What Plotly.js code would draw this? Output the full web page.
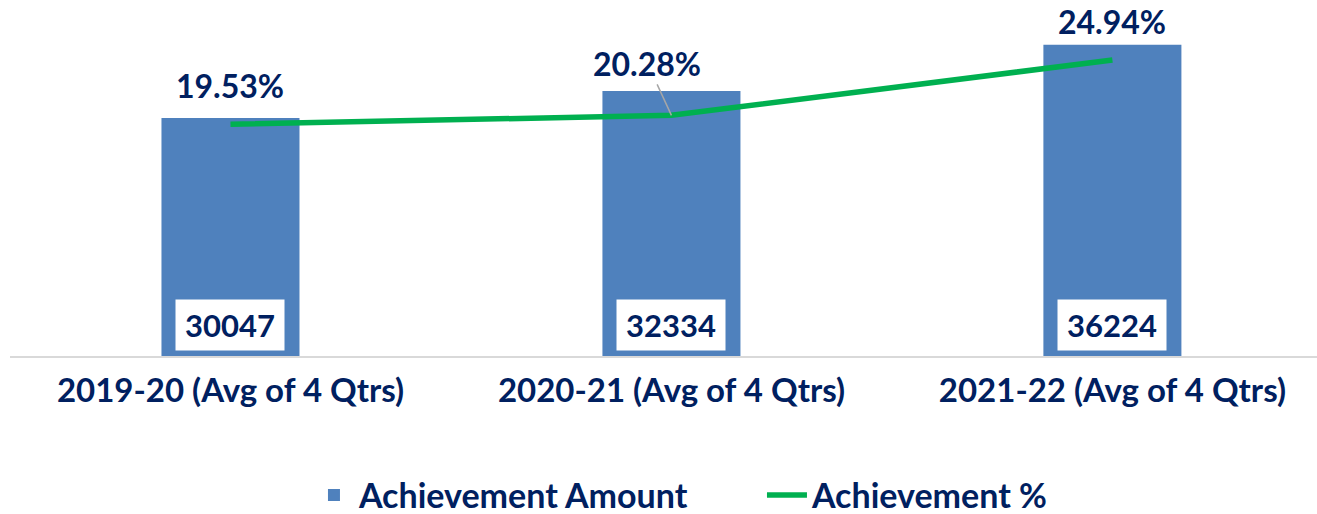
<!DOCTYPE html>
<html>
<head>
<meta charset="utf-8">
<script src="https://cdn.plot.ly/plotly-3.0.1.min.js"></script>
<style>
  html, body { margin: 0; padding: 0; background: #fff; }
  #chart { width: 1317px; height: 514px; }
</style>
</head>
<body>
<div id="chart"></div>
<script>
// values
var years = ['2019-20 (Avg of 4 Qtrs)', '2020-21 (Avg of 4 Qtrs)', '2021-22 (Avg of 4 Qtrs)'];
var amounts = [30047, 32334, 36224];
var percents = [19.53, 20.28, 24.94];

var navy = '#002060';
var fontFam = 'Lato, "Open Sans", sans-serif';

var barTrace = {
    x: years,
    y: amounts,
    type: 'bar',
    name: 'Achievement Amount',
    width: 0.313,
    marker: { color: '#4F81BD' },
    hoverinfo: 'skip'
};

var lineTrace = {
    x: years,
    y: percents,
    type: 'scatter',
    mode: 'lines',
    name: 'Achievement %',
    yaxis: 'y2',
    line: { color: '#00B050', width: 5.5 },
    hoverinfo: 'skip'
};

var annotations = [];
years.forEach(function(yr, i) {
    // amount label in a white box at the foot of each bar
    annotations.push({
        x: yr, y: 10000, xref: 'x', yref: 'y',
        text: '<b>' + amounts[i] + '</b>',
        showarrow: false,
        yanchor: 'bottom',
        yshift: 5,
        width: 96,
        bgcolor: '#ffffff',
        borderpad: 6,
        font: { family: fontFam, size: 31, color: navy }
    });
    // percent label above the line point
    var pct = {
        x: yr, y: percents[i], xref: 'x', yref: 'y2',
        text: '<b>' + percents[i].toFixed(2) + '%</b>',
        font: { family: fontFam, size: 32, color: navy }
    };
    if (i === 1) {
        pct.showarrow = true;
        pct.arrowhead = 0;
        pct.arrowwidth = 1.5;
        pct.arrowcolor = '#A6A6A6';
        pct.ax = -24;
        pct.ay = -52;
        pct.standoff = 0;
    } else {
        pct.showarrow = false;
        pct.yanchor = 'middle';
        pct.yshift = 39;
    }
    annotations.push(pct);
});

var layout = {
    width: 1317,
    height: 514,
    margin: { l: 10, r: 0, t: 0, b: 158 },
    paper_bgcolor: '#ffffff',
    plot_bgcolor: '#ffffff',
    showlegend: true,
    legend: {
        orientation: 'h',
        xref: 'container',
        yref: 'container',
        x: 0.2346, xanchor: 'left',
        y: 0.036, yanchor: 'middle',
        font: { family: fontFam, size: 34, color: navy, weight: 'bold' },
        itemwidth: 40,
        entrywidth: 398
    },
    xaxis: {
        type: 'category',
        range: [-0.5, 2.464],
        automargin: false,
        showline: true,
        linecolor: '#D9D9D9',
        linewidth: 2,
        showgrid: false,
        ticks: 'outside',
        ticklen: 4,
        tickcolor: 'rgba(0,0,0,0)',
        tickfont: { family: fontFam, size: 33, color: navy, weight: 'bold' }
    },
    yaxis: {
        range: [10000, 40000],
        visible: false,
        showgrid: false,
        zeroline: false
    },
    yaxis2: {
        range: [0, 30],
        overlaying: 'y',
        side: 'right',
        visible: false,
        showgrid: false,
        zeroline: false
    },
    annotations: annotations
};

Plotly.newPlot('chart', [barTrace, lineTrace], layout, { displayModeBar: false, staticPlot: true });
</script>
</body>
</html>
